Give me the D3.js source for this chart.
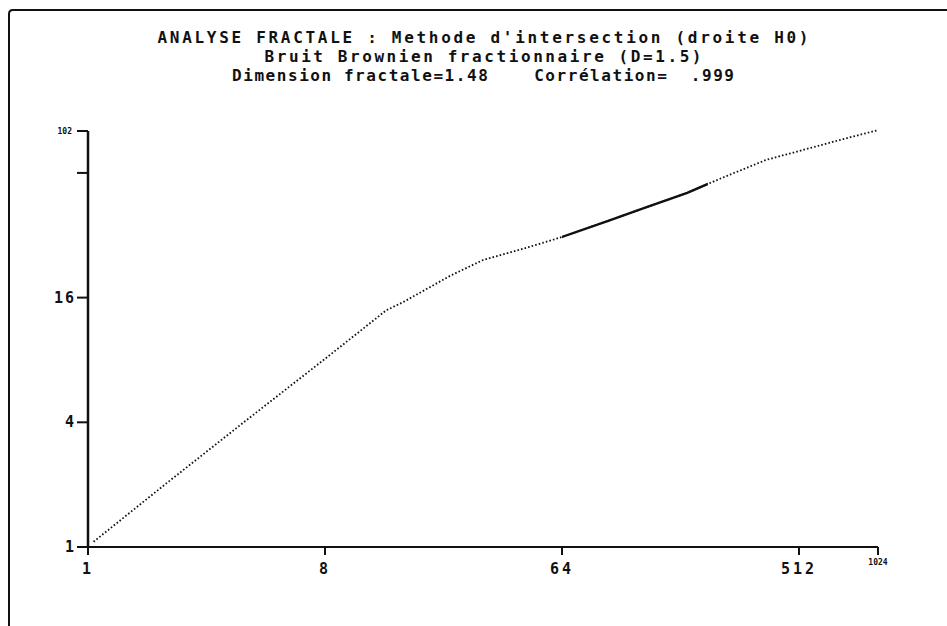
<!DOCTYPE html>
<html><head><meta charset="utf-8">
<script src="https://cdn.jsdelivr.net/npm/d3@7/dist/d3.min.js"></script>
<style>
html,body{margin:0;padding:0;background:#fff;}
svg{display:block;}
text{font-family:"DejaVu Sans Mono",monospace;fill:#111;white-space:pre;}
</style></head>
<body>
<svg id="c" width="947" height="626"></svg>
<script>
// ---- data ----
const titleLines = [
  "ANALYSE FRACTALE : Methode d'intersection (droite H0)",
  "Bruit Brownien fractionnaire (D=1.5)",
  "Dimension fractale=1.48    Corrélation=  .999"
];
const scales  = [1.05, 2, 4, 8, 13.7, 16, 24, 32, 48, 64, 96, 128, 192, 256, 384, 512, 768, 1024];
const lengths = [1.06, 2.04, 4.08, 8.1, 13.9, 15.3, 20.4, 24.3, 28.1, 31.4, 37.6, 42.8, 51.3, 60.0, 74.0, 81.6, 93.8, 103];
const fitRange = [64, 230];
const xTicks = [1, 8, 64, 512, 1024];
const xTickLabels = ["1", "8", "64", "512", "1024"];
const yTicks = [1, 4, 16, 64, 102];
const yTickLabels = ["1", "4", "16", "", "102"];

// ---- layout ----
const svg = d3.select("#c");
const x = d3.scaleLog().base(2).domain([1, 1024]).range([88, 878]);
const y = d3.scaleLog().base(2).domain([1, 102]).range([547, 131]);

// frame
svg.append("path")
  .attr("d", "M9,626 L9,14 Q9,10 13,10 L947,10")
  .attr("fill", "none").attr("stroke", "#111").attr("stroke-width", 2);

// title
const titleY = [43, 62, 81];
const titleW = [651, 437, 502];
svg.selectAll("text.title").data(titleLines).join("text")
  .attr("class", "title")
  .attr("x", 483).attr("y", (d, i) => titleY[i])
  .attr("text-anchor", "middle")
  .attr("font-size", 16).attr("font-weight", "bold")
  .attr("textLength", (d, i) => titleW[i]).attr("lengthAdjust", "spacing")
  .text(d => d);

// axes lines
svg.append("line").attr("x1", x(1)).attr("x2", x(1024)).attr("y1", y(1)).attr("y2", y(1))
  .attr("stroke", "#111").attr("stroke-width", 2);
svg.append("line").attr("x1", x(1)).attr("x2", x(1)).attr("y1", y(1)).attr("y2", y(102))
  .attr("stroke", "#111").attr("stroke-width", 2.5);

// x ticks
svg.selectAll("line.xt").data(xTicks).join("line").attr("class", "xt")
  .attr("x1", d => x(d)).attr("x2", d => x(d))
  .attr("y1", y(1)).attr("y2", y(1) + 8)
  .attr("stroke", "#111").attr("stroke-width", 2);
svg.selectAll("text.xl").data(xTicks).join("text").attr("class", "xl")
  .attr("x", d => x(d))
  .attr("y", (d, i) => i === 4 ? 565 : 574)
  .attr("text-anchor", "middle")
  .attr("font-size", (d, i) => i === 4 ? 8 : 15)
  .attr("font-weight", "bold")
  .attr("letter-spacing", (d, i) => i === 4 ? 0 : 3)
  .text((d, i) => xTickLabels[i]);

// y ticks
svg.selectAll("line.yt").data(yTicks).join("line").attr("class", "yt")
  .attr("x1", x(1) - 11).attr("x2", x(1))
  .attr("y1", d => y(d)).attr("y2", d => y(d))
  .attr("stroke", "#111").attr("stroke-width", 2);
svg.selectAll("text.yl").data(yTicks).join("text").attr("class", "yl")
  .attr("x", (d, i) => i === 4 ? 72 : 76)
  .attr("y", (d, i) => y(d) + (i === 4 ? 3 : 5))
  .attr("text-anchor", "end")
  .attr("font-size", (d, i) => i === 4 ? 8 : 15)
  .attr("font-weight", "bold")
  .attr("letter-spacing", (d, i) => i === 4 ? 0 : 2)
  .text((d, i) => yTickLabels[i]);

// curve
const pts = scales.map((s, i) => [s, lengths[i]]);
const line = d3.line().x(d => x(d[0])).y(d => y(d[1]));
svg.append("path").attr("d", line(pts))
  .attr("fill", "none").attr("stroke", "#111").attr("stroke-width", 1.8)
  .attr("stroke-dasharray", "1.6,2.1");

svg.append("clipPath").attr("id", "fit").append("rect")
  .attr("x", x(fitRange[0])).attr("width", x(fitRange[1]) - x(fitRange[0]))
  .attr("y", 0).attr("height", 626);
svg.append("path").attr("d", line(pts)).attr("clip-path", "url(#fit)")
  .attr("fill", "none").attr("stroke", "#111").attr("stroke-width", 2.4);
</script>
</body></html>
